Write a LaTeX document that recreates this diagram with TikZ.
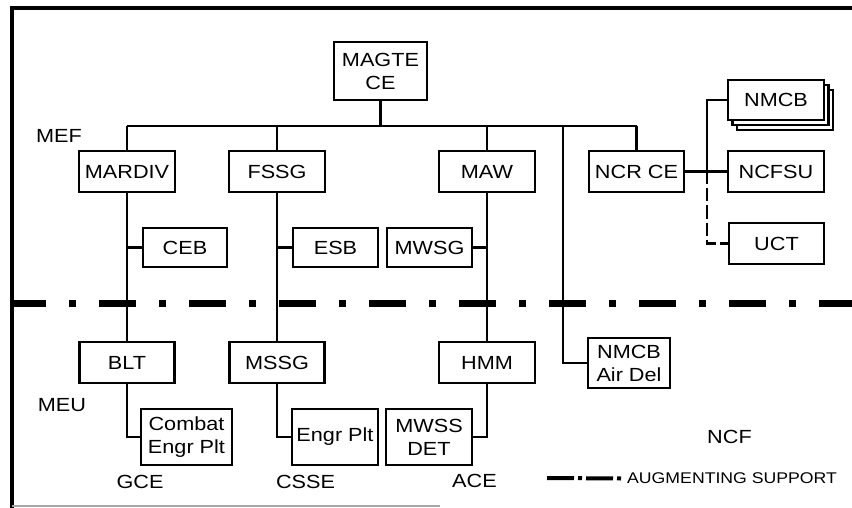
\documentclass[tikz,border=0pt]{standalone}
\usepackage{fontspec}
\setmainfont{Liberation Sans}[FakeStretch=1.14]
\usetikzlibrary{shadows}
\begin{document}
\begin{tikzpicture}[x=1pt,y=-1pt,
  box/.style={draw, line width=2.2pt, fill=white, inner sep=0pt, align=center,
    font=\fontsize{19}{23}\selectfont},
  lbl/.style={inner sep=0pt, font=\fontsize{19}{23}\selectfont},
  conn/.style={line width=2.2pt},
  dashconn/.style={line width=2.2pt, dash pattern=on 13pt off 4pt},
  frameline/.style={line width=4pt},
  augline/.style={line width=7pt, dash pattern=on 37pt off 23pt on 7pt off 23pt, dash phase=3pt},
  legline/.style={line width=4pt, dash pattern=on 27pt off 4pt on 4pt off 4pt},
]
\useasboundingbox (0,0) rectangle (852,508);

% frame
\draw[frameline] (12,508) -- (12,8) -- (852,8);
\draw[line width=1.5pt, black!35] (12,506) -- (440,506);

% augmenting support line
\coordinate (augL) at (12,303);
\coordinate (augR) at (852,303);
\draw[augline] (augL) -- (augR);

% boxes
\node[box, minimum width=93pt, minimum height=58pt] (magte) at (380.5,71) {MAGTE\\CE};
\node[box, minimum width=96pt, minimum height=41pt] (mardiv) at (127,171.5) {MARDIV};
\node[box, minimum width=96pt, minimum height=41pt] (fssg) at (277,171.5) {FSSG};
\node[box, minimum width=96pt, minimum height=41pt] (maw) at (487,171.5) {MAW};
\node[box, minimum width=95pt, minimum height=41pt] (ncrce) at (636.5,171.5) {NCR CE};
\node[box, minimum width=96pt, minimum height=40pt,
  copy shadow={shadow xshift=9pt, shadow yshift=-10pt},
  copy shadow={shadow xshift=4.5pt, shadow yshift=-5pt}] (nmcb) at (776,100) {NMCB};
\node[box, minimum width=96pt, minimum height=41pt] (ncfsu) at (776,171.5) {NCFSU};
\node[box, minimum width=95pt, minimum height=41pt] (uct) at (776.5,243.5) {UCT};
\node[box, minimum width=84pt, minimum height=39pt] (ceb) at (185,247.5) {CEB};
\node[box, minimum width=85pt, minimum height=39pt] (esb) at (335.5,247.5) {ESB};
\node[box, minimum width=85pt, minimum height=39pt] (mwsg) at (429.5,247.5) {MWSG};
\node[box, minimum width=95pt, minimum height=41pt] (blt) at (127,362.5) {BLT};
\node[box, minimum width=95pt, minimum height=41pt] (mssg) at (277,362.5) {MSSG};
\node[box, minimum width=96pt, minimum height=41pt] (hmm) at (487,362.5) {HMM};
\node[box, minimum width=82pt, minimum height=50pt] (nmcbad) at (629,363) {NMCB\\Air Del};
\node[box, minimum width=91pt, minimum height=56pt] (combat) at (186.5,437) {Combat\\Engr Plt};
\node[box, minimum width=86pt, minimum height=56pt] (engr) at (335,437) {Engr Plt};
\node[box, minimum width=86pt, minimum height=56pt] (mwss) at (429,437) {MWSS\\DET};

% labels
\node[lbl] (mef) at (59,136) {MEF};
\node[lbl] (meu) at (62,405.5) {MEU};
\node[lbl] (gce) at (140,481.5) {GCE};
\node[lbl] (csse) at (305.5,481.5) {CSSE};
\node[lbl] (ace) at (474.5,480.5) {ACE};
\node[lbl] (ncf) at (729.5,436.5) {NCF};
\node[inner sep=0pt, anchor=west, font=\fontsize{15.5}{18}\selectfont] (legtext) at (627,478.5) {AUGMENTING SUPPORT};

% bus
\coordinate (busL) at (127,126);
\coordinate (busR) at (636.5,126);
\coordinate (busN) at (563,126);
\draw[conn] (busL) -- (busR);
\draw[conn] (magte.south) -- (magte.south |- busL);
\draw[conn] (mardiv.north) -- (busL);
\draw[conn] (fssg.north) -- (fssg.north |- busL);
\draw[conn] (maw.north) -- (maw.north |- busL);
\draw[conn] (ncrce.north) -- (busR);
\draw[conn] (busN) |- (nmcbad.west);

% GCE chain
\draw[conn] (mardiv.south) -- (blt.north);
\draw[conn] (ceb.west) -- (ceb.west -| mardiv.south);
\draw[conn] (blt.south) |- (combat.west);

% CSSE chain
\draw[conn] (fssg.south) -- (mssg.north);
\draw[conn] (esb.west) -- (esb.west -| fssg.south);
\draw[conn] (mssg.south) |- (engr.west);

% ACE chain
\draw[conn] (maw.south) -- (hmm.north);
\draw[conn] (mwsg.east) -- (mwsg.east -| maw.south);
\draw[conn] (hmm.south) |- (mwss.east);

% NCF
\coordinate (jn) at (707,171.5);
\draw[conn] (ncrce.east) -- (ncfsu.west);
\draw[conn] (nmcb.west) -| (jn);
\draw[dashconn] (jn) |- (uct.west);

% legend
\coordinate (legA) at (547,478);
\draw[legline] (legA) -- ([xshift=-6pt]legtext.west);
\end{tikzpicture}
\end{document}
